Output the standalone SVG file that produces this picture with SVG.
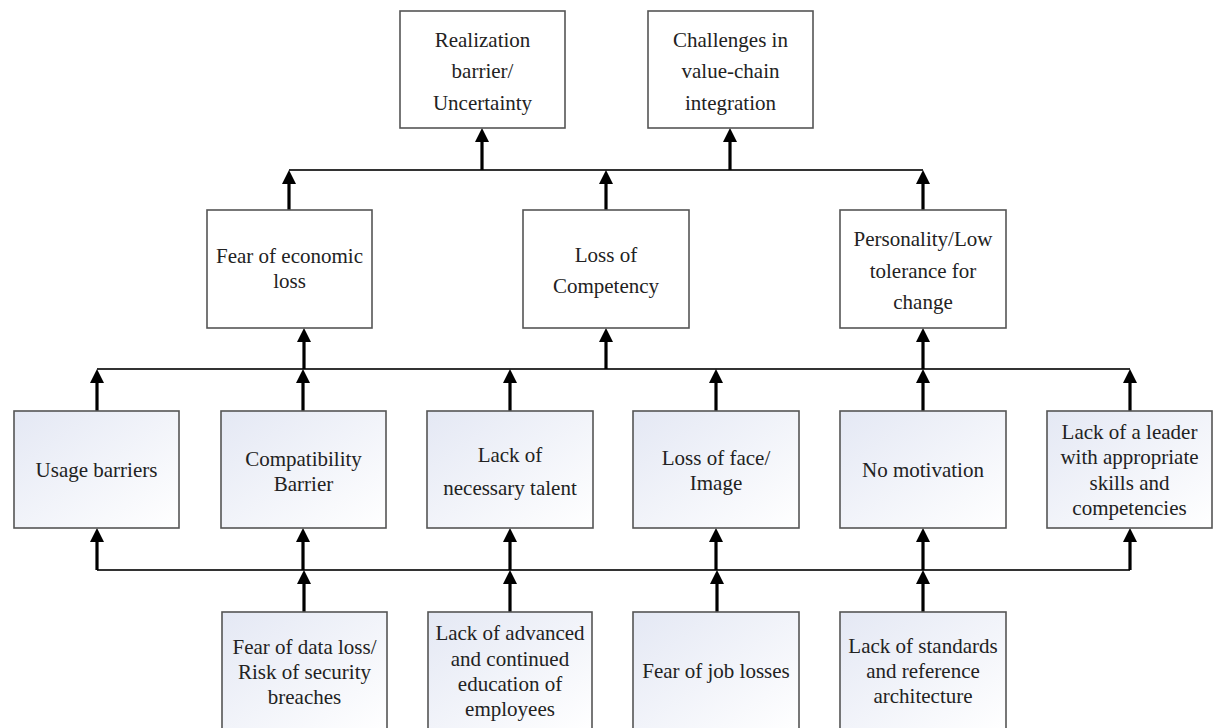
<svg xmlns="http://www.w3.org/2000/svg" width="1217" height="728" viewBox="0 0 1217 728">
<style>
.box{fill:#ffffff;stroke:#555555;stroke-width:1.6}
.gbox{fill:url(#g);stroke:#555555;stroke-width:1.6}
text{font-family:"Liberation Serif","Times New Roman",serif;font-size:21px;fill:#222222;text-anchor:middle}
.bus{stroke:#333333;stroke-width:1.8;fill:none}
.arr{stroke:#000000;stroke-width:3.2;fill:none;marker-end:url(#ah)}
</style>
<defs>
<linearGradient id="g" x1="0" y1="0" x2="1" y2="1">
<stop offset="0" stop-color="#e4e8f4"/>
<stop offset="1" stop-color="#ffffff"/>
</linearGradient>
<marker id="ah" markerUnits="userSpaceOnUse" markerWidth="14" markerHeight="14" viewBox="0 0 14 14" refX="0" refY="7" orient="auto">
<path d="M0,0 L14,7 L0,14 z" fill="#000000"/>
</marker>
</defs>
<rect width="1217" height="728" fill="#ffffff"/>

<g id="connectors">
<line class="bus" x1="289" y1="170" x2="923" y2="170"/>
<line class="bus" x1="97" y1="369" x2="1130" y2="369"/>
<line class="bus" x1="97" y1="570" x2="1130" y2="570"/>
<line class="arr" x1="482" y1="170" x2="482" y2="142"/>
<line class="arr" x1="730" y1="170" x2="730" y2="142"/>
<line class="arr" x1="289" y1="210" x2="289" y2="184"/>
<line class="arr" x1="606" y1="210" x2="606" y2="184"/>
<line class="arr" x1="923" y1="210" x2="923" y2="184"/>
<line class="arr" x1="304" y1="369" x2="304" y2="342"/>
<line class="arr" x1="606" y1="369" x2="606" y2="342"/>
<line class="arr" x1="923" y1="369" x2="923" y2="342"/>
<line class="arr" x1="97" y1="411" x2="97" y2="383"/>
<line class="arr" x1="303" y1="411" x2="303" y2="383"/>
<line class="arr" x1="510" y1="411" x2="510" y2="383"/>
<line class="arr" x1="716" y1="411" x2="716" y2="383"/>
<line class="arr" x1="923" y1="411" x2="923" y2="383"/>
<line class="arr" x1="1130" y1="411" x2="1130" y2="383"/>
<line class="arr" x1="97" y1="570" x2="97" y2="542"/>
<line class="arr" x1="303" y1="570" x2="303" y2="542"/>
<line class="arr" x1="510" y1="570" x2="510" y2="542"/>
<line class="arr" x1="716" y1="570" x2="716" y2="542"/>
<line class="arr" x1="923" y1="570" x2="923" y2="542"/>
<line class="arr" x1="1130" y1="570" x2="1130" y2="542"/>
<line class="arr" x1="304" y1="612" x2="304" y2="584"/>
<line class="arr" x1="510" y1="612" x2="510" y2="584"/>
<line class="arr" x1="717" y1="612" x2="717" y2="584"/>
<line class="arr" x1="923" y1="612" x2="923" y2="584"/>
</g>

<g id="n-realization">
<rect class="box" x="400" y="11" width="165" height="117"/>
<text x="482.5" y="47">Realization</text>
<text x="482.5" y="78">barrier/</text>
<text x="482.5" y="110">Uncertainty</text>
</g>
<g id="n-challenges">
<rect class="box" x="648" y="11" width="165" height="117"/>
<text x="730.5" y="47">Challenges in</text>
<text x="730.5" y="78">value-chain</text>
<text x="730.5" y="110">integration</text>
</g>

<g id="n-economic">
<rect class="box" x="207" y="210" width="165" height="118"/>
<text x="289.5" y="263">Fear of economic</text>
<text x="289.5" y="288">loss</text>
</g>
<g id="n-competency">
<rect class="box" x="523" y="210" width="166" height="118"/>
<text x="606" y="262">Loss of</text>
<text x="606" y="293">Competency</text>
</g>
<g id="n-personality">
<rect class="box" x="840" y="210" width="166" height="118"/>
<text x="923" y="246">Personality/Low</text>
<text x="923" y="278">tolerance for</text>
<text x="923" y="309">change</text>
</g>

<g id="n-usage">
<rect class="gbox" x="14" y="411" width="165" height="117"/>
<text x="96.5" y="477">Usage barriers</text>
</g>
<g id="n-compat">
<rect class="gbox" x="221" y="411" width="165" height="117"/>
<text x="303.5" y="466">Compatibility</text>
<text x="303.5" y="491">Barrier</text>
</g>
<g id="n-talent">
<rect class="gbox" x="427" y="411" width="166" height="117"/>
<text x="510" y="462">Lack of</text>
<text x="510" y="495">necessary talent</text>
</g>
<g id="n-face">
<rect class="gbox" x="633" y="411" width="166" height="117"/>
<text x="716" y="465">Loss of face/</text>
<text x="716" y="490">Image</text>
</g>
<g id="n-motivation">
<rect class="gbox" x="840" y="411" width="166" height="117"/>
<text x="923" y="477">No motivation</text>
</g>
<g id="n-leader">
<rect class="gbox" x="1047" y="411" width="165" height="117"/>
<text x="1129.5" y="439">Lack of a leader</text>
<text x="1129.5" y="464">with appropriate</text>
<text x="1129.5" y="490">skills and</text>
<text x="1129.5" y="515">competencies</text>
</g>

<g id="n-dataloss">
<rect class="gbox" x="222" y="612" width="165" height="120"/>
<text x="304.5" y="654">Fear of data loss/</text>
<text x="304.5" y="679">Risk of security</text>
<text x="304.5" y="704">breaches</text>
</g>
<g id="n-education">
<rect class="gbox" x="428" y="612" width="164" height="120"/>
<text x="510" y="640">Lack of advanced</text>
<text x="510" y="666">and continued</text>
<text x="510" y="691">education of</text>
<text x="510" y="716">employees</text>
</g>
<g id="n-joblosses">
<rect class="gbox" x="633" y="612" width="166" height="120"/>
<text x="716" y="678">Fear of job losses</text>
</g>
<g id="n-standards">
<rect class="gbox" x="840" y="612" width="166" height="120"/>
<text x="923" y="653">Lack of standards</text>
<text x="923" y="678">and reference</text>
<text x="923" y="703">architecture</text>
</g>
</svg>
